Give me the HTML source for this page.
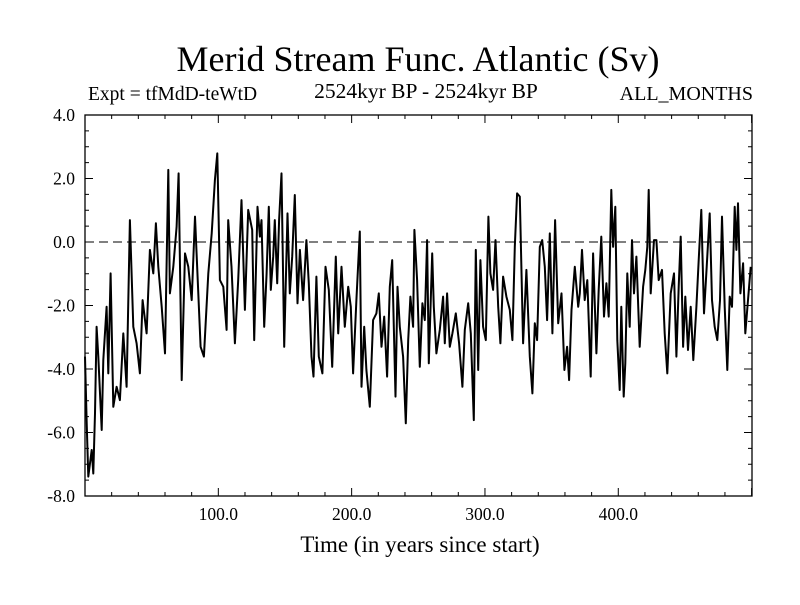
<!DOCTYPE html>
<html><head><meta charset="utf-8"><style>
html,body{margin:0;padding:0;background:#fff;}
svg text{font-family:"Liberation Serif",serif;fill:#000;}
</style></head><body>
<svg id="chart" width="800" height="600" viewBox="0 0 800 600" xmlns="http://www.w3.org/2000/svg">
<text x="418" y="71" font-size="36" text-anchor="middle">Merid Stream Func. Atlantic (Sv)</text>
<text x="88" y="100" font-size="19.5">Expt = tfMdD-teWtD</text>
<text x="426" y="98" font-size="21.5" text-anchor="middle">2524kyr BP - 2524kyr BP</text>
<text x="753" y="100" font-size="20" text-anchor="end">ALL_MONTHS</text>
<text x="420" y="552" font-size="23" text-anchor="middle">Time (in years since start)</text>
<g id="axes"></g>
<g id="series"></g>
</svg>
<script>
const times = [0,1.25,2.5,5,6.2,7.5,8.7,10,12.5,13.7,16.2,17.5,19.2,21.2,23.7,26.2,28.7,31.2,33.7,36.2,38.7,41.2,43.2,46.2,48.7,51.2,53.2,55,57.5,60,62.5,63.7,66.2,68.7,70.2,72.5,75,77.5,80,82.5,85,86.7,89.2,92.5,95,97.4,99.2,101.2,103.7,106.2,107.4,109.9,112.4,114.9,117.4,119.9,122.4,
125.4,126.9,129.4,131.2,132.4,134.4,136.2,137.9,139.4,141.2,142.4,144.2,145.6,147.4,149.4,151.9,153.6,155.4,157.4,159.4,161.2,163.6,166.1,167.9,169.9,171.4,173.6,175.4,178.1,180.4,182.9,185.4,188.1,189.9,192.4,194.9,197.4,199.4,201.1,203.6,206.1,207.4,209.4,211.1,213.6,216.1,218.6,220.4,222.4,224.4,226.6,228.6,230.4,232.9,234.4,236.1,238.6,240.6,242.4,244.1,246.1,
247.1,249.1,251.1,253.1,254.9,256.6,257.9,260.4,261.6,263.6,266.1,268.6,269.9,271.6,273.6,275.6,278.1,280.6,283.1,284.9,287.4,289.4,291.6,293.1,294.9,296.6,298.6,300.6,302.6,304.1,306.1,307.9,309.9,311.6,313.6,316.1,318.6,320.6,322.4,324.1,326.1,328.6,331.1,333.6,335.6,337.4,339.1,341.1,342.9,344.9,346.6,348.6,350.6,352.6,354.9,357.4,359.6,361.6,363.1,364.9,367.4,369.9,
371.1,372.8,374.8,376.8,379.3,381.1,383.6,385.3,387.3,389.3,391.1,392.8,394.8,396.1,397.8,399.3,401.1,402.3,404.1,405.3,406.8,408.6,410.3,411.8,413.6,416.1,418.6,420.3,421.8,422.8,424.3,426.8,428.6,430.3,432.8,434.8,436.8,439.3,441.8,443.6,445.3,446.8,448.6,450.3,452.3,454.3,456.3,458.6,460.3,462.3,464.3,466.3,468.6,470.3,472.3,474.3,476.3,477.8,479.8,481.8,483.6,485.3,487.3,488.6,489.8,491.6,493.6,495.3,497.3,499.3];
const values = [-3.61,-5.71,-7.39,-6.55,-7.29,-5.40,-2.67,-3.61,-5.92,-3.72,-2.04,-4.14,-0.99,-5.19,-4.56,-4.98,-2.88,-4.56,0.69,-2.67,-3.19,-4.14,-1.83,-2.88,-0.25,-0.99,0.59,-0.78,-2.04,-3.51,2.27,-1.62,-0.78,0.48,2.16,-4.35,-0.36,-0.78,-1.83,0.80,-1.62,-3.30,-3.61,-0.99,0.27,1.95,2.79,-1.20,-1.41,-2.77,0.69,-0.78,-3.19,-1.20,1.32,-2.14,1.01,
0.38,-3.09,1.11,0.17,0.69,-2.67,-0.99,1.11,-1.51,-0.46,0.69,-1.30,0.69,2.16,-3.30,0.90,-1.62,-0.46,1.48,-1.93,-0.25,-1.83,0.06,-1.30,-3.61,-4.24,-1.09,-3.61,-4.14,-0.78,-1.51,-3.93,-0.46,-2.88,-0.78,-2.67,-1.41,-2.04,-4.14,-1.83,0.33,-4.56,-2.67,-4.03,-5.19,-2.46,-2.25,-1.62,-3.30,-2.35,-4.24,-1.41,-0.57,-4.87,-1.41,-2.67,-3.61,-5.71,-3.09,-1.72,-2.67,
0.38,-1.20,-3.93,-1.93,-2.46,0.06,-3.82,-0.36,-2.04,-3.51,-2.77,-1.72,-3.19,-1.62,-3.30,-2.88,-2.25,-3.19,-4.56,-2.77,-1.93,-2.88,-5.61,-0.25,-4.03,-0.57,-2.67,-3.09,0.80,-0.99,-1.51,0.06,-2.04,-3.19,-1.09,-1.72,-2.14,-3.09,-0.15,1.53,1.43,-3.19,-0.88,-3.61,-4.77,-2.56,-3.09,-0.15,0.06,-0.78,-2.46,0.27,-2.88,0.69,-2.56,-1.62,-4.03,-3.30,-4.35,-2.14,-0.78,-2.04,
-1.62,-0.25,-1.83,-1.20,-4.24,-0.36,-3.51,-1.51,0.17,-2.35,-1.30,-2.35,1.64,-0.15,1.11,-3.09,-4.66,-2.04,-4.87,-3.82,-0.99,-2.67,0.06,-1.62,-0.46,-3.30,-1.41,-0.88,-0.15,1.64,-1.62,0.06,0.06,-1.20,-0.88,-2.88,-4.14,-1.62,-0.99,-3.61,-1.41,0.17,-3.30,-1.72,-3.40,-2.04,-3.72,-2.04,-0.57,1.01,-2.25,-0.78,0.90,-1.83,-2.67,-3.09,-1.83,0.80,-2.04,-4.03,-1.72,-2.04,1.11,-0.25,1.22,-1.62,-0.67,-2.88,-1.83,-0.78];
const yTickValues = [4,2,0,-2,-4,-6,-8];
const yTickLabels = ["4.0","2.0","0.0","-2.0","-4.0","-6.0","-8.0"];
const xTickValues = [100,200,300,400];
const xTickLabels = ["100.0","200.0","300.0","400.0"];

const L=85,R=752,T=115,B=496, X0=0, X1=500.3, Y0=-8, Y1=4;
const sx = t => L + (t-X0)/(X1-X0)*(R-L);
const sy = v => B - (v-Y0)/(Y1-Y0)*(B-T);
const NS="http://www.w3.org/2000/svg";
function mk(tag, attrs, parent){const e=document.createElementNS(NS,tag);for(const k in attrs)e.setAttribute(k,attrs[k]);parent.appendChild(e);return e;}
const axes=document.getElementById('axes'), series=document.getElementById('series');

const frame=mk('rect',{x:L,y:T,width:R-L,height:B-T,fill:'none',stroke:'#000','stroke-width':1.3},axes);



const zero=mk('line',{x1:L,x2:R,y1:sy(0),y2:sy(0),stroke:'#000','stroke-width':1,'stroke-dasharray':'9,5'},axes);



for(let v=Y0; v<=Y1+1e-9; v+=0.5){
  const major = Math.abs(v/2-Math.round(v/2))<1e-9;
  const len = major?8:4, y=sy(v);
  const t1=mk('line',{x1:L,x2:L+len,y1:y,y2:y,stroke:'#000','stroke-width':1},axes);
  
  
  const t2=mk('line',{x1:R-len,x2:R,y1:y,y2:y,stroke:'#000','stroke-width':1},axes);
  
  
}
yTickValues.forEach((v,i)=>{
  const t=mk('text',{x:L-10,y:sy(v)+6,'font-size':17.5,'text-anchor':'end'},axes);
  t.textContent=yTickLabels[i];
  
  
});
for(let t=20; t<X1; t+=20){
  const major = t%100===0, len = major?8:4, x=sx(t);
  const a=mk('line',{x1:x,x2:x,y1:B,y2:B-len,stroke:'#000','stroke-width':1},axes);
  
  
  const b=mk('line',{x1:x,x2:x,y1:T,y2:T+len,stroke:'#000','stroke-width':1},axes);
  
  
}
xTickValues.forEach((v,i)=>{
  const t=mk('text',{x:sx(v),y:B+24,'font-size':17.5,'text-anchor':'middle'},axes);
  t.textContent=xTickLabels[i];
  
  
});

const d = times.map((t,i)=>(i?'L':'M')+sx(t).toFixed(1)+','+sy(values[i]).toFixed(1)).join('');
const line=mk('path',{d:d,fill:'none',stroke:'#000','stroke-width':2,'stroke-linejoin':'round'},series);


</script>
</body></html>
